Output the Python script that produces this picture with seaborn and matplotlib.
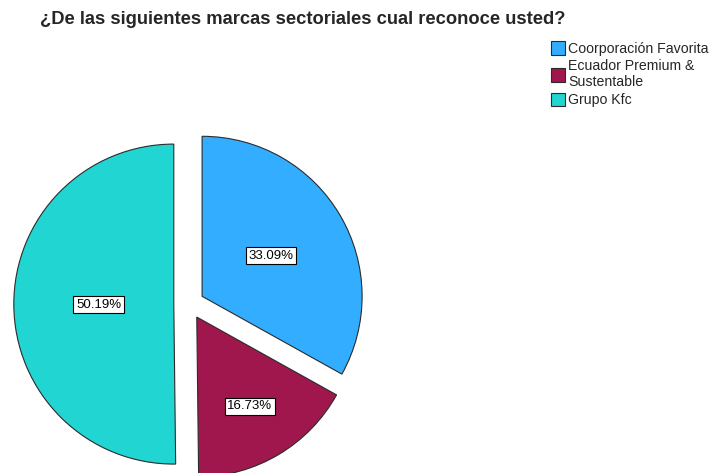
import numpy as np
import matplotlib
matplotlib.use("Agg")
import matplotlib.pyplot as plt
import seaborn as sns

# data
categories = ["Coorporación Favorita", "Ecuador Premium &\nSustentable", "Grupo Kfc"]
percentages = [33.09, 16.73, 50.19]
colors = ["#33ADFF", "#A0174D", "#21D5D2"]
title = "¿De las siguientes marcas sectoriales cual reconoce usted?"

sns.set_theme(style="white")
plt.rcParams["font.family"] = ["Liberation Sans", "DejaVu Sans"]

fig = plt.figure(figsize=(7.18, 4.73), dpi=100)
W, H = 718, 473

# pie axes sized so one data unit = 160 px, pie centre at pixel (189, 304)
ax = fig.add_axes([0, 0, 380 / W, 353 / H])
wedges, texts, autotexts = ax.pie(
    percentages, colors=colors, startangle=90, counterclock=False,
    explode=[0.095] * 3, autopct=lambda p: "", pctdistance=0.5,
    wedgeprops=dict(edgecolor="#2b2b2b", linewidth=0.8),
    textprops=dict(fontsize=9.5, color="black"),
)
ax.set_xlim(-189 / 160, (380 - 189) / 160)
ax.set_ylim(-(473 - 304) / 160, (304 - 120) / 160)
ax.axis("off")

# percentage labels placed along each slice's bisector
label_dist = [0.5, 0.65, 0.47]
for w, t, d, v in zip(wedges, autotexts, label_dist, percentages):
    ang = np.deg2rad((w.theta1 + w.theta2) / 2)
    cx, cy = w.center
    t.set_text(f"{v:.2f}%")
    t.set_position((cx + d * w.r * np.cos(ang), cy + d * w.r * np.sin(ang)))
    t.set_bbox(dict(boxstyle="square,pad=0.2", fc="white", ec="black", lw=0.8))

fig.text(40 / W, 1 - 19 / H, title, fontsize=13.2, fontweight="bold",
         ha="left", va="center")

handles = [plt.Rectangle((0, 0), 1, 1, fc=c, ec="#2b2b2b", lw=0.8) for c in colors]
fig.legend(handles, categories, loc="upper left", bbox_to_anchor=(541 / W, 1 - 31 / H),
           frameon=False, fontsize=10.2, handlelength=1.0, handleheight=1.1,
           handletextpad=0.2, labelspacing=0.25, borderpad=0.2)

fig.savefig("out.png", dpi=100)
